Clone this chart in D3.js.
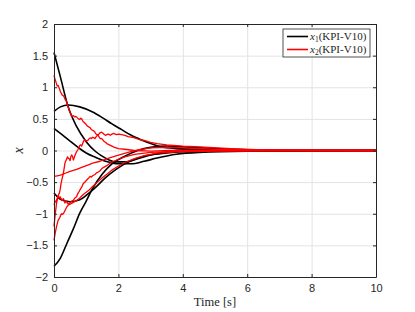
<!DOCTYPE html>
<head>
  <meta charset="utf-8" />
  <script src="https://d3js.org/d3.v7.min.js"></script>
  <style>
    body { margin: 0; background: white; }
    .tick text { font-family: "Liberation Sans", Arial, sans-serif; font-size: 11px; fill: #262626; }
    .serif { font-family: "Liberation Serif", "DejaVu Serif", serif; fill: #262626; }
  </style>
</head>
<body>
  <script>
    var width = 415, height = 312;
    var margin = { top: 24, right: 39, bottom: 35, left: 54 };
    var w = width - margin.left - margin.right,
        h = height - margin.top - margin.bottom;

    // tick values
    var xTicks = [0, 2, 4, 6, 8, 10];
    var yTicks = [-2, -1.5, -1, -0.5, 0, 0.5, 1, 1.5, 2];

    // x1 runs (black), [time, value]
    var x1A = [[0,1.55],[0.2,1.16],[0.44,0.69],[0.7,0.38],[1.0,0.14],[1.3,-0.02],[1.6,-0.12],[1.9,-0.18],[2.2,-0.18],[2.6,-0.13],[3.0,-0.07],[3.5,-0.02],[4.2,0.01],[5,0.01],[6.5,0],[10,0]];
    var x1B = [[0,0.62],[0.2,0.69],[0.45,0.72],[0.8,0.69],[1.2,0.61],[1.5,0.52],[1.8,0.42],[2.1,0.33],[2.4,0.24],[2.7,0.17],[3.0,0.11],[3.3,0.06],[3.9,0.03],[5,0.01],[6.5,0],[10,0]];
    var x1C = [[0,0.35],[0.2,0.27],[0.5,0.15],[0.8,0.03],[1.0,-0.04],[1.3,-0.11],[1.6,-0.17],[2.0,-0.21],[2.4,-0.21],[2.8,-0.17],[3.2,-0.12],[3.8,-0.06],[4.5,-0.03],[6,-0.01],[10,0]];
    var x1D = [[0,-0.67],[0.2,-0.77],[0.5,-0.81],[0.8,-0.78],[1.0,-0.71],[1.3,-0.58],[1.6,-0.43],[1.95,-0.29],[2.4,-0.16],[2.8,-0.09],[3.3,-0.05],[4,-0.02],[5,-0.01],[10,0]];
    var x1E = [[0,-1.83],[0.2,-1.7],[0.4,-1.47],[0.6,-1.24],[0.8,-0.99],[1.0,-0.8],[1.2,-0.6],[1.5,-0.37],[1.8,-0.21],[2.2,-0.09],[2.6,0.0],[3.0,0.05],[3.5,0.07],[4,0.06],[5,0.03],[6,0.01],[8,0],[10,0]];

    // x2 runs (red, noisy)
    var x2A = [[0,1.19],[0.03,1.13],[0.05,1.1],[0.08,1.05],[0.1,1.02],[0.13,1.03],[0.15,1.0],[0.18,0.96],[0.2,0.93],[0.23,0.9],[0.25,0.88],[0.28,0.87],[0.3,0.86],[0.33,0.83],[0.35,0.8],[0.38,0.79],[0.4,0.76],[0.43,0.7],[0.45,0.67],[0.48,0.62],[0.5,0.6],[0.55,0.54],[0.6,0.55],[0.65,0.53],[0.68,0.54],[0.72,0.52],[0.76,0.5],[0.8,0.49],[0.83,0.51],[0.86,0.5],[0.89,0.47],[0.92,0.45],[0.96,0.43],[1.0,0.41],[1.03,0.39],[1.06,0.38],[1.09,0.37],[1.12,0.36],[1.16,0.33],[1.2,0.32],[1.23,0.31],[1.26,0.3],[1.29,0.27],[1.32,0.25],[1.35,0.25],[1.38,0.23],[1.43,0.19],[1.47,0.19],[1.5,0.18],[1.53,0.16],[1.56,0.14],[1.6,0.13],[1.64,0.11],[1.72,0.09],[1.8,0.07],[1.88,0.05],[2.0,0.03],[2.2,0.02],[2.5,0.0],[3.0,-0.01],[3.6,0.0],[5,0],[10,0]];
    var x2B = [[0,-1.2],[0.04,-1.0],[0.08,-0.83],[0.11,-0.76],[0.14,-0.7],[0.17,-0.67],[0.19,-0.62],[0.22,-0.52],[0.25,-0.45],[0.29,-0.36],[0.31,-0.3],[0.34,-0.2],[0.36,-0.17],[0.39,-0.14],[0.42,-0.1],[0.44,-0.12],[0.47,-0.13],[0.5,-0.16],[0.52,-0.1],[0.55,-0.07],[0.58,-0.1],[0.6,-0.15],[0.63,-0.11],[0.65,-0.08],[0.7,-0.02],[0.75,0.02],[0.8,0.08],[0.83,0.09],[0.86,0.07],[0.89,0.11],[0.92,0.15],[0.96,0.17],[1.0,0.15],[1.05,0.16],[1.08,0.18],[1.12,0.2],[1.16,0.19],[1.2,0.21],[1.24,0.2],[1.27,0.19],[1.3,0.21],[1.33,0.23],[1.38,0.25],[1.43,0.28],[1.48,0.29],[1.53,0.27],[1.57,0.25],[1.6,0.24],[1.64,0.25],[1.68,0.26],[1.72,0.25],[1.75,0.24],[1.8,0.26],[1.85,0.27],[1.9,0.26],[1.95,0.25],[2.0,0.26],[2.1,0.25],[2.2,0.24],[2.3,0.22],[2.4,0.21],[2.5,0.2],[2.67,0.17],[2.8,0.16],[3.0,0.13],[3.2,0.11],[3.5,0.09],[4.0,0.07],[4.4,0.06],[4.8,0.05],[5.5,0.03],[6.5,0.01],[8,0],[10,0]];
    var x2C = [[0,-0.41],[0.1,-0.4],[0.2,-0.39],[0.35,-0.36],[0.5,-0.33],[0.7,-0.3],[0.9,-0.26],[1.05,-0.23],[1.2,-0.2],[1.43,-0.17],[1.7,-0.12],[1.95,-0.08],[2.3,-0.03],[2.6,0.01],[3.0,0.04],[3.5,0.05],[4,0.04],[5,0.02],[6,0.01],[10,0]];
    var x2D = [[0,-0.86],[0.02,-0.83],[0.04,-0.8],[0.06,-0.81],[0.08,-0.78],[0.1,-0.76],[0.12,-0.72],[0.14,-0.74],[0.16,-0.75],[0.19,-0.73],[0.22,-0.76],[0.24,-0.79],[0.27,-0.78],[0.29,-0.76],[0.32,-0.8],[0.34,-0.83],[0.37,-0.8],[0.39,-0.81],[0.42,-0.83],[0.44,-0.85],[0.47,-0.84],[0.5,-0.83],[0.55,-0.8],[0.6,-0.79],[0.65,-0.75],[0.7,-0.73],[0.75,-0.67],[0.78,-0.65],[0.81,-0.62],[0.86,-0.58],[0.91,-0.52],[0.96,-0.5],[1.01,-0.47],[1.07,-0.44],[1.12,-0.41],[1.16,-0.42],[1.2,-0.4],[1.27,-0.38],[1.33,-0.35],[1.38,-0.34],[1.43,-0.32],[1.48,-0.29],[1.53,-0.27],[1.64,-0.24],[1.74,-0.2],[1.85,-0.17],[1.95,-0.15],[2.2,-0.1],[2.5,-0.06],[3,-0.03],[4,-0.01],[5,0],[10,0]];
    var x2E = [[0,-1.42],[0.04,-1.3],[0.08,-1.2],[0.13,-1.1],[0.18,-1.06],[0.21,-1.02],[0.24,-1.0],[0.27,-1.01],[0.3,-0.99],[0.35,-0.94],[0.4,-0.89],[0.45,-0.86],[0.5,-0.85],[0.6,-0.82],[0.7,-0.79],[0.8,-0.75],[0.9,-0.7],[1.0,-0.66],[1.1,-0.62],[1.2,-0.57],[1.35,-0.5],[1.5,-0.43],[1.65,-0.37],[1.8,-0.31],[1.95,-0.26],[2.2,-0.19],[2.5,-0.13],[2.8,-0.08],[3.2,-0.04],[3.8,-0.02],[5,-0.01],[10,0]];

    var x1Runs = [x1A, x1B, x1C, x1D, x1E];
    var x2Runs = [x2A, x2B, x2C, x2D, x2E];

    var svg = d3.select("body").append("svg")
      .attr("width", width).attr("height", height);

    var g = svg.append("g").attr("transform", "translate(" + margin.left + "," + margin.top + ")");

    var x = d3.scaleLinear().domain([0, 10]).range([0, w]);
    var y = d3.scaleLinear().domain([-2, 2]).range([h, 0]);

    // grid
    g.append("g").attr("transform", "translate(0," + h + ")")
      .call(d3.axisBottom(x).tickValues(xTicks).tickSize(-h).tickFormat(""))
      .call(s => s.select(".domain").remove())
      .call(s => s.selectAll("line").attr("stroke", "#e3e3e3"));
    g.append("g")
      .call(d3.axisLeft(y).tickValues(yTicks).tickSize(-w).tickFormat(""))
      .call(s => s.select(".domain").remove())
      .call(s => s.selectAll("line").attr("stroke", "#e3e3e3"));

    var line = d3.line().x(d => x(d[0])).y(d => y(d[1]));
    var smooth = d3.line().x(d => x(d[0])).y(d => y(d[1])).curve(d3.curveMonotoneX);

    var plot = g.append("g");
    plot.selectAll("path.x1").data(x1Runs).join("path")
      .attr("class", "x1").attr("d", smooth)
      .attr("fill", "none").attr("stroke", "black").attr("stroke-width", 1.6);
    plot.selectAll("path.x2").data(x2Runs).join("path")
      .attr("class", "x2").attr("d", line)
      .attr("fill", "none").attr("stroke", "#ff0000").attr("stroke-width", 1.3)
      .attr("stroke-linejoin", "round");

    // axes, ticks pointing inward, box on
    var axCol = "#262626";
    var xb = g.append("g").attr("transform", "translate(0," + h + ")")
      .call(d3.axisBottom(x).tickValues(xTicks).tickSizeInner(-3).tickSizeOuter(0).tickPadding(7));
    var xt = g.append("g")
      .call(d3.axisTop(x).tickValues(xTicks).tickSizeInner(-3).tickSizeOuter(0).tickFormat(""));
    var yl = g.append("g")
      .call(d3.axisLeft(y).tickValues(yTicks).tickSizeInner(-3).tickSizeOuter(0).tickPadding(6).tickFormat(d3.format("")));
    var yr = g.append("g").attr("transform", "translate(" + w + ",0)")
      .call(d3.axisRight(y).tickValues(yTicks).tickSizeInner(-3).tickSizeOuter(0).tickFormat(""));
    [xb, xt, yl, yr].forEach(a => {
      a.select(".domain").attr("stroke", axCol);
      a.selectAll(".tick line").attr("stroke", axCol);
    });

    // labels
    svg.append("text").attr("class", "serif")
      .attr("x", margin.left + w / 2).attr("y", 306)
      .attr("text-anchor", "middle").attr("font-size", 12.5)
      .text("Time [s]");
    svg.append("text").attr("class", "serif")
      .attr("transform", "translate(23," + (margin.top + h / 2) + ") rotate(-90)")
      .attr("text-anchor", "middle").attr("font-size", 14).attr("font-style", "italic")
      .text("x");

    // legend
    var legend = svg.append("g").attr("transform", "translate(283,29)");
    legend.append("rect").attr("width", 87).attr("height", 28)
      .attr("fill", "white").attr("stroke", axCol).attr("stroke-width", 0.8);
    var entries = [{ name: "1", color: "black" }, { name: "2", color: "#ff0000" }];
    entries.forEach(function (e, i) {
      var yy = 7.5 + i * 13;
      legend.append("line").attr("x1", 4).attr("x2", 25).attr("y1", yy).attr("y2", yy)
        .attr("stroke", e.color).attr("stroke-width", 1.6);
      var t = legend.append("text").attr("class", "serif").attr("x", 27).attr("y", yy + 3.8)
        .attr("font-size", 11);
      t.append("tspan").attr("font-style", "italic").text("x");
      t.append("tspan").attr("font-size", 7.5).attr("dy", 2).text(e.name);
      t.append("tspan").attr("dy", -2).text("(KPI-V10)");
    });
  </script>
</body>
